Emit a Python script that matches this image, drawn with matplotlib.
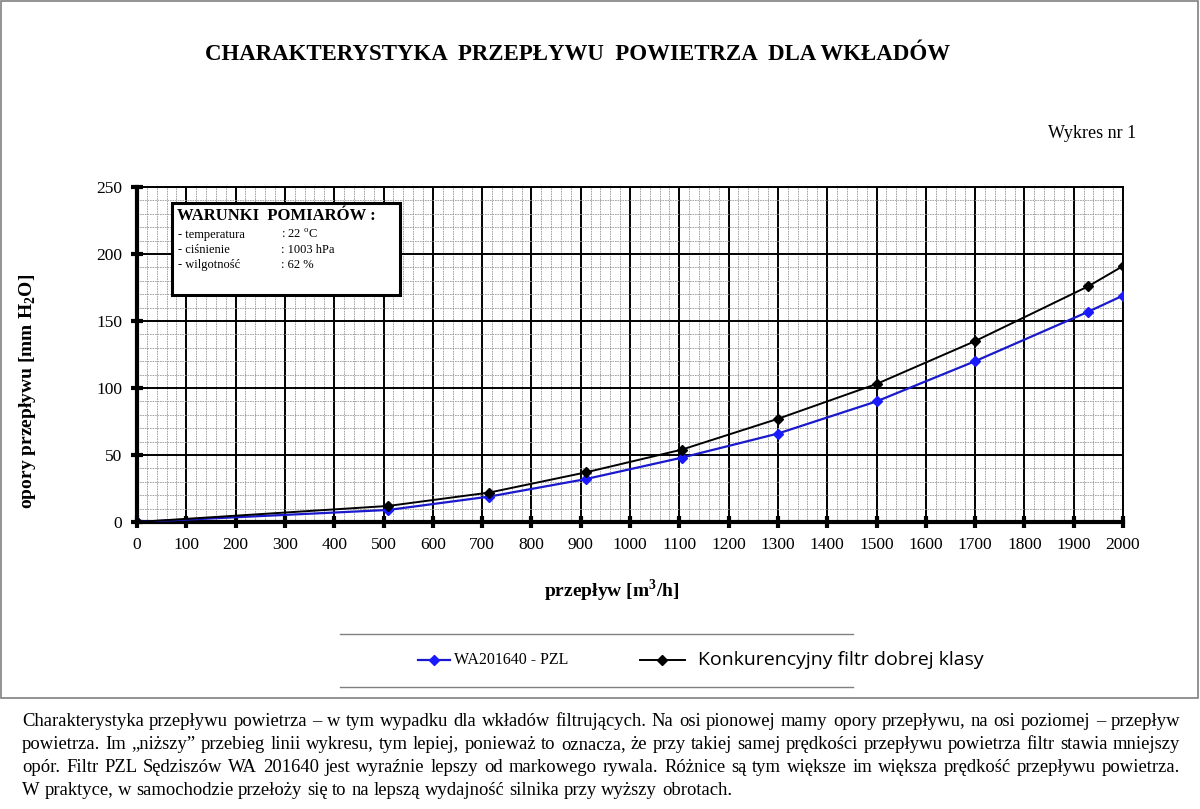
import matplotlib
matplotlib.use("Agg")
import matplotlib.pyplot as plt
from matplotlib.lines import Line2D
from matplotlib.patches import Rectangle
from matplotlib.ticker import MultipleLocator

# dane
przeplyw = [0, 510, 715, 910, 1105, 1300, 1500, 1700, 1930, 2000]
opory_pzl = [0, 9, 19, 32, 48, 66, 90, 120, 157, 169]
opory_konk = [0, 12, 22, 37, 54, 77, 103, 135, 176, 191]

nazwa_pzl = "WA201640 - PZL"
nazwa_konk = "Konkurencyjny filtr dobrej klasy"

warunki = [("- temperatura", ": 22 $^{\\rm o}$C"),
           ("- ciśnienie", ": 1003 hPa"),
           ("- wilgotność", ": 62 %")]

opis = [
    "Charakterystyka przepływu powietrza – w tym wypadku dla wkładów filtrujących. Na osi pionowej mamy opory przepływu, na osi poziomej – przepływ",
    "powietrza. Im „niższy” przebieg linii wykresu, tym lepiej, ponieważ to oznacza, że przy takiej samej prędkości przepływu powietrza filtr stawia mniejszy",
    "opór. Filtr PZL Sędziszów WA 201640 jest wyraźnie lepszy od markowego rywala. Różnice są tym większe im większa prędkość przepływu powietrza.",
    "W praktyce, w samochodzie przełoży się to na lepszą wydajność silnika przy wyższy obrotach.",
]

plt.rcParams['font.family'] = ['Liberation Serif', 'DejaVu Serif']
plt.rcParams['mathtext.fontset'] = 'custom'
plt.rcParams['mathtext.rm'] = 'Liberation Serif'
plt.rcParams['mathtext.bf'] = 'Liberation Serif:bold'

W, H = 1200, 809
fig = plt.figure(figsize=(W / 100, H / 100), dpi=100)


def fx(px):
    return px / W


def fy(py):
    return 1 - py / H


# ramka zewnetrzna
fig.add_artist(Rectangle((fx(1), fy(698)), fx(1197), fy(1) - fy(698),
                         transform=fig.transFigure, fill=False,
                         edgecolor='#808080', linewidth=1.2))

ax = fig.add_axes([fx(137), fy(522), fx(1123 - 137), fy(187) - fy(522)])

ax.plot(przeplyw, opory_pzl, color='#1a1acc', linewidth=1.6, marker='D',
        markersize=5, markerfacecolor='#1a1aff', markeredgecolor='#1a1aff', zorder=5)
ax.plot(przeplyw, opory_konk, color='black', linewidth=1.4, marker='D',
        markersize=5, zorder=6)

ax.set_xlim(0, 2000)
ax.set_ylim(0, 250)
ax.xaxis.set_major_locator(MultipleLocator(100))
ax.xaxis.set_minor_locator(MultipleLocator(20))
ax.yaxis.set_major_locator(MultipleLocator(50))
ax.yaxis.set_minor_locator(MultipleLocator(10))
ax.grid(which='major', color='black', linewidth=1.4)
ax.grid(which='minor', color='#999999', linewidth=0.6, linestyle=(0, (2, 1)))
ax.set_axisbelow(True)

for s in ['left', 'bottom']:
    ax.spines[s].set_linewidth(3)
for s in ['right', 'top']:
    ax.spines[s].set_linewidth(1.4)
ax.tick_params(which='major', direction='inout', length=9, width=3,
               labelsize=12.5, pad=6)
ax.tick_params(which='minor', length=0)

# ramka z warunkami pomiarow
ax.add_patch(Rectangle((0.0355, 0.678), 0.2312, 0.274, transform=ax.transAxes,
                       facecolor='white', edgecolor='black', linewidth=2.2, zorder=7))
fig.text(fx(177), fy(216), "WARUNKI  POMIARÓW :", fontsize=12, fontweight='bold',
         va='center', ha='left', zorder=8)
for i, (k, v) in enumerate(warunki):
    yy = fy(238 + i * 15)
    fig.text(fx(178), yy, k, fontsize=9, va='baseline', zorder=8)
    fig.text(fx(281), yy, v, fontsize=9, va='baseline', zorder=8)

# tytul i opisy osi
fig.text(fx(578), fy(55), "CHARAKTERYSTYKA  PRZEPŁYWU  POWIETRZA  DLA WKŁADÓW",
         fontsize=16.5, fontweight='bold', ha='center', va='center')
fig.text(fx(1136), fy(133), "Wykres nr 1", fontsize=13, ha='right', va='center')
fig.text(fx(28), fy(391), "opory przepływu [mm H$_\\mathbf{2}$O]", fontsize=14,
         fontweight='bold', rotation=90, ha='center', va='center')
fig.text(fx(612), fy(591), "przepływ [m$^\\mathbf{3}$/h]", fontsize=14,
         fontweight='bold', ha='center', va='center')

# legenda
for py in (634, 687):
    fig.add_artist(Line2D([fx(340), fx(853)], [fy(py), fy(py)], color='#808080',
                          linewidth=1.0, transform=fig.transFigure))
fig.add_artist(Line2D([fx(418), fx(450)], [fy(660), fy(660)], color='#1a1acc', linewidth=1.6,
                      transform=fig.transFigure))
fig.add_artist(Line2D([fx(434)], [fy(660)], color='#1a1aff', marker='D', markersize=5,
                      transform=fig.transFigure))
fig.text(fx(454), fy(660), nazwa_pzl, fontsize=11.5, va='center', ha='left')
fig.add_artist(Line2D([fx(640), fx(685)], [fy(660), fy(660)], color='black', linewidth=1.4,
                      transform=fig.transFigure))
fig.add_artist(Line2D([fx(662)], [fy(660)], color='black', marker='D', markersize=5,
                      transform=fig.transFigure))
fig.text(fx(698), fy(660), nazwa_konk, fontsize=14, va='center', ha='left',
         family=['Open Sans', 'DejaVu Sans'])

# tekst pod wykresem, wyjustowany
renderer = fig.canvas.get_renderer()
x0, x1 = 22, 1180
rozmiar = 13.4
for i, linia in enumerate(opis):
    yy = fy(726 + i * 23)
    slowa = linia.split(' ')
    teksty = [fig.text(0, yy, s, fontsize=rozmiar, va='baseline', ha='left') for s in slowa]
    szer = [t.get_window_extent(renderer).width for t in teksty]
    if i < len(opis) - 1:
        odstep = (x1 - x0 - sum(szer)) / (len(slowa) - 1)
    else:
        odstep = 0.25 * rozmiar * 100 / 72
    x = x0
    for t, w in zip(teksty, szer):
        t.set_x(fx(x))
        x += w + odstep

fig.savefig("out.png", dpi=100)
